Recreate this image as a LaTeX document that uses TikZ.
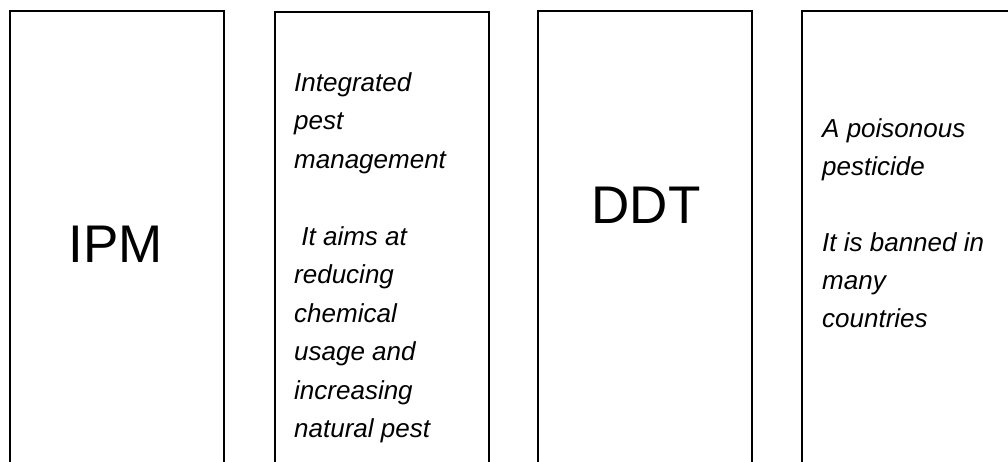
\documentclass[tikz,border=0pt]{standalone}
\usepackage{fontspec}
\setmainfont{Liberation Sans}
\begin{document}
\begin{tikzpicture}[x=1pt,y=-1pt,
  boxstyle/.style={draw=black, line width=1.6pt, minimum width=214pt, minimum height=520pt, inner sep=0pt, anchor=north west},
  lbl/.style={font=\fontsize{26}{26}\selectfont\itshape, inner sep=0pt, anchor=base west},
  big/.style={font=\fontsize{53}{53}\selectfont, inner sep=0pt, anchor=base}]
\useasboundingbox (0,0) rectangle (1008,461);
\clip (0,0) rectangle (1008,461);
\node[boxstyle] (b1) at (9,10) {};
\node[boxstyle] (b2) at (274,11) {};
\node[boxstyle] (b3) at (537,10) {};
\node[boxstyle] (b4) at (801,10) {};
\node[big] (ipm) at (116,262) {IPM};
\node[big] (ddt) at (646,223) {DDT};
\node[lbl] (t2a) at (294,91) {Integrated};
\node[lbl] (t2b) at (294,129.5) {pest};
\node[lbl] (t2c) at (294,168) {management};
\node[lbl] (t2d) at (294,245) {\ It aims at};
\node[lbl] (t2e) at (294,283.5) {reducing};
\node[lbl] (t2f) at (294,322) {chemical};
\node[lbl] (t2g) at (294,360.5) {usage and};
\node[lbl] (t2h) at (294,399) {increasing};
\node[lbl] (t2i) at (294,437.5) {natural pest};
\node[lbl] (t4a) at (822,137) {A poisonous};
\node[lbl] (t4b) at (822,175) {pesticide};
\node[lbl] (t4c) at (822,251) {It is banned in};
\node[lbl] (t4d) at (822,289) {many};
\node[lbl] (t4e) at (822,327) {countries};
\end{tikzpicture}
\end{document}
